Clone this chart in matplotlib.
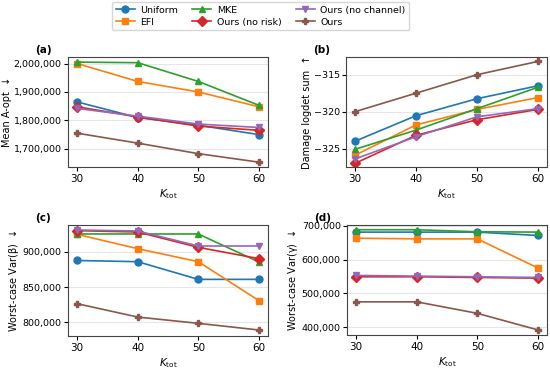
import matplotlib.pyplot as plt
from matplotlib.ticker import FuncFormatter

# x values shared by all panels
k_tot = [30, 40, 50, 60]

methods = ['Uniform', 'EFI', 'MKE', 'Ours (no risk)', 'Ours (no channel)', 'Ours']
colors = ['tab:blue', 'tab:orange', 'tab:green', 'tab:red', 'tab:purple', 'tab:brown']
markers = ['o', 's', '^', 'D', 'v', 'P']

# (a) Mean A-opt
a_uniform = [1865000, 1810000, 1783000, 1750000]
a_efi = [2000000, 1937000, 1900000, 1848000]
a_mke = [2005000, 2003000, 1937000, 1853000]
a_norisk = [1848000, 1812000, 1780000, 1765000]
a_nochan = [1842000, 1815000, 1787000, 1775000]
a_ours = [1755000, 1720000, 1683000, 1653000]

# (b) Damage logdet sum
b_uniform = [-324.0, -320.55, -318.25, -316.5]
b_efi = [-325.9, -321.8, -319.7, -318.1]
b_mke = [-325.1, -322.5, -319.6, -316.7]
b_norisk = [-327.0, -323.2, -321.1, -319.7]
b_nochan = [-326.4, -323.4, -320.7, -319.6]
b_ours = [-320.0, -317.5, -315.0, -313.2]

# (c) Worst-case Var(beta)
c_uniform = [887500, 885800, 860800, 860800]
c_efi = [924500, 904200, 885800, 830700]
c_mke = [925000, 925000, 925000, 885400]
c_norisk = [929700, 927800, 906100, 890100]
c_nochan = [930700, 929200, 908000, 908000]
c_ours = [826400, 807500, 798600, 789200]

# (d) Worst-case Var(gamma)
d_uniform = [681000, 681000, 681000, 671000]
d_efi = [663000, 661000, 661000, 575000]
d_mke = [688000, 688000, 682000, 681000]
d_norisk = [549000, 549000, 547000, 545000]
d_nochan = [553000, 551000, 549000, 547000]
d_ours = [475000, 475000, 441000, 392000]

panels = [
    ('(a)', 'Mean A-opt  ↓', [a_uniform, a_efi, a_mke, a_norisk, a_nochan, a_ours], (1636000, 2023000), [1700000, 1800000, 1900000, 2000000]),
    ('(b)', 'Damage logdet sum  ↑', [b_uniform, b_efi, b_mke, b_norisk, b_nochan, b_ours], (-327.5, -312.6), [-325, -320, -315]),
    ('(c)', 'Worst-case Var($\\beta$)  ↓', [c_uniform, c_efi, c_mke, c_norisk, c_nochan, c_ours], (780700, 937700), [800000, 850000, 900000]),
    ('(d)', 'Worst-case Var($\\gamma$)  ↓', [d_uniform, d_efi, d_mke, d_norisk, d_nochan, d_ours], (377000, 702000), [400000, 500000, 600000, 700000]),
]

plt.rcParams['font.size'] = 7
plt.rcParams['mathtext.default'] = 'regular'

fig = plt.figure(figsize=(5.5, 3.69), dpi=100)
# axes boxes in figure fractions (left, bottom, width, height)
boxes = [
    (68 / 550, 1 - 167 / 369, 200 / 550, 110 / 369),
    (346 / 550, 1 - 167 / 369, 201 / 550, 110 / 369),
    (68 / 550, 1 - 336 / 369, 200 / 550, 111 / 369),
    (347 / 550, 1 - 335 / 369, 200 / 550, 110 / 369),
]

comma = FuncFormatter(lambda v, p: f'{int(round(v)):,}')

for box, (tag, ylabel, series, ylim, yticks) in zip(boxes, panels):
    ax = fig.add_axes(box)
    for name, vals, col, mk in zip(methods, series, colors, markers):
        ax.plot(k_tot, vals, color=col, marker=mk, markersize=5, linewidth=1.2, label=name)
    ax.set_ylim(*ylim)
    ax.set_yticks(yticks)
    if tag != '(b)':
        ax.yaxis.set_major_formatter(comma)
    ax.set_xticks(k_tot)
    ax.set_xlim(28.5, 61.5)
    ax.grid(axis='y', color='#e6e6e6', linewidth=0.8)
    ax.set_axisbelow(True)
    for s in ax.spines.values():
        s.set_color('#444444')
    ax.tick_params(axis='x', labelsize=7.5, pad=2, length=3)
    ax.tick_params(axis='y', labelsize=6.8, pad=1.5, length=3)
    ax.set_xlabel('$\\mathit{K}_{\\mathrm{tot}}$', fontsize=7.5, labelpad=2)
    ax.set_ylabel(ylabel, fontsize=7, labelpad=1.5)
    ax.text(-0.165, 1.04, tag, transform=ax.transAxes, fontweight='bold', fontsize=7.5)

handles, labels = ax.get_legend_handles_labels()
fig.legend(handles, labels, loc='upper center', bbox_to_anchor=(0.474, 1.0), ncol=3,
           fontsize=6.8, frameon=True, handlelength=2.0, columnspacing=1.5,
           handletextpad=0.6, borderaxespad=0.2, labelspacing=0.3)

fig.savefig('out.png', dpi=100)
